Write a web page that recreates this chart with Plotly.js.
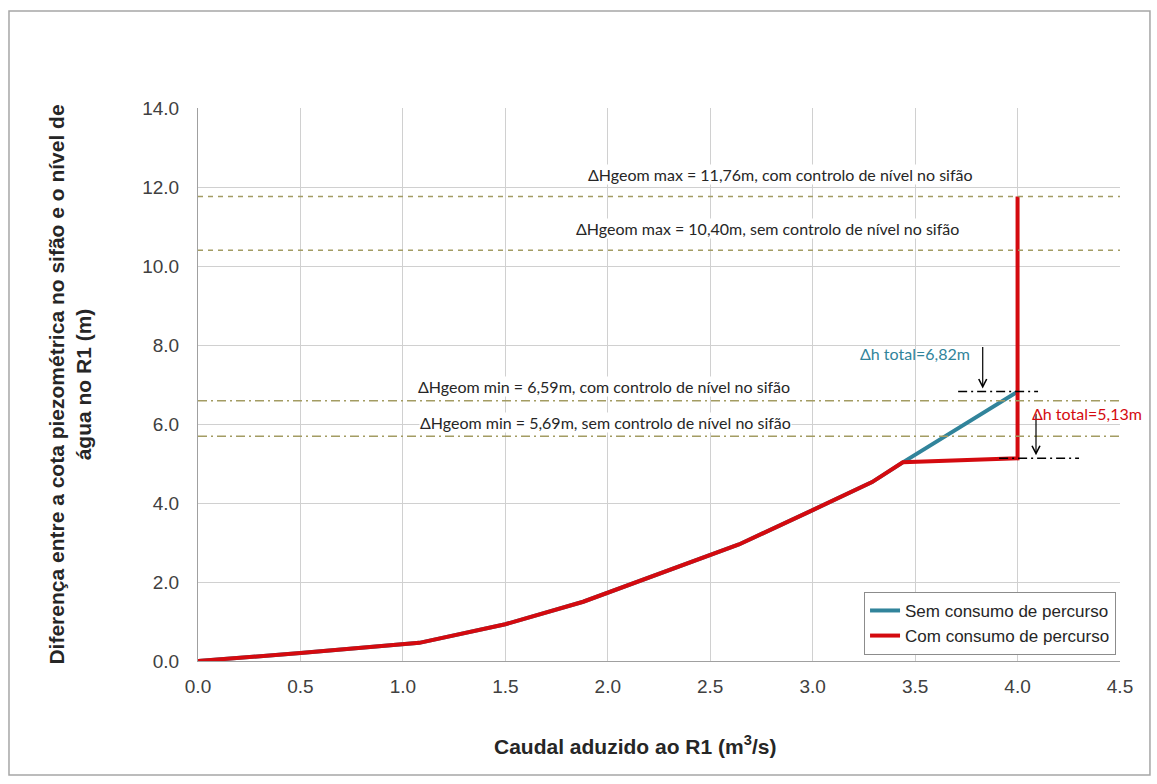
<!DOCTYPE html>
<html><head><meta charset="utf-8">
<script src="https://cdn.plot.ly/plotly-3.0.1.min.js"></script>
<style>body{margin:0;background:#fff}#c{width:1157px;height:784px}</style>
</head><body><div id="c"></div>
<script>
// ---- data ----
const flowCommon = [0, 0.5, 1.08, 1.5, 1.88, 2.25, 2.64, 3.0, 3.29, 3.44];
const headCommon = [0, 0.2, 0.46, 0.93, 1.5, 2.2, 2.95, 3.82, 4.53, 5.03];
const flowSemEnd = [4.0];
const headSemEnd = [6.82];
const flowComEnd = [4.0, 4.0];
const headComEnd = [5.13, 11.76];
const seriesNames = ["Sem consumo de percurso", "Com consumo de percurso"];
const refLevels = [11.76, 10.40, 6.59, 5.69];
const refLabels = [
  "ΔHgeom max = 11,76m, com controlo de nível no sifão",
  "ΔHgeom max = 10,40m, sem controlo de nível no sifão",
  "ΔHgeom min = 6,59m, com controlo de nível no sifão",
  "ΔHgeom min = 5,69m, sem controlo de nível no sifão"
];
const dhValues = [6.82, 5.13];
const dhLabels = ["Δh total=6,82m", "Δh total=5,13m"];
const xTicks = [0, 0.5, 1, 1.5, 2, 2.5, 3, 3.5, 4, 4.5];
const yTicks = [0, 2, 4, 6, 8, 10, 12, 14];
const xTitle = "Caudal aduzido ao R1 (m<sup>3</sup>/s)";
const yTitle = "Diferença entre a cota piezométrica no sifão e o nível de<br>água no R1 (m)";

// ---- styling / placement ----
const teal = "#31849b", red = "#d40a0f", olive = "#a39c63";
const refLabelX = [2.84, 2.78, 1.98, 1.99];
const refDash = ["5px,5px", "5px,5px", "9px,4px,2px,4px", "9px,4px,2px,4px"];
const dhSegX = [[3.71, 4.10], [3.91, 4.30]];
const dhArrowX = [3.83, 4.09];
const dhLabelX = [3.5, 4.34];
const dhLabelShift = [38, 45];
const dhColors = [teal, red];

const semX = flowCommon.concat(flowSemEnd), semY = headCommon.concat(headSemEnd);
const comX = flowCommon.concat(flowComEnd), comY = headCommon.concat(headComEnd);

const traces = [
  {x: semX, y: semY, mode: "lines", name: seriesNames[0], line: {color: teal, width: 4}},
  {x: comX, y: comY, mode: "lines", name: seriesNames[1], line: {color: red, width: 4}}
];

const annFont = "Lato, 'Open Sans', sans-serif";
const shapes = [];
const annotations = [];
refLevels.forEach((v, i) => {
  shapes.push({type: "line", xref: "x", yref: "y", x0: 0, x1: 4.5, y0: v, y1: v,
    line: {color: olive, width: 1.5, dash: refDash[i]}, layer: "above"});
  annotations.push({x: refLabelX[i], y: v, xref: "x", yref: "y", text: refLabels[i],
    showarrow: false, yshift: i < 2 ? 22 : 14, bgcolor: "#fff", borderpad: 0,
    font: {family: annFont, size: 16, color: "#262626"}});
});
dhValues.forEach((v, i) => {
  shapes.push({type: "line", xref: "x", yref: "y", x0: dhSegX[i][0], x1: dhSegX[i][1], y0: v, y1: v,
    line: {color: "#000", width: 1.5, dash: "9px,4px,2px,4px"}, layer: "above"});
  annotations.push({x: dhArrowX[i], y: v, xref: "x", yref: "y", ax: 0, ay: -46, axref: "pixel", ayref: "pixel",
    showarrow: true, arrowhead: 5, arrowsize: 1.3, arrowwidth: 1.2, arrowcolor: "#000", text: "", standoff: 3});
  annotations.push({x: dhLabelX[i], y: v, xref: "x", yref: "y", text: dhLabels[i], showarrow: false,
    yshift: dhLabelShift[i], font: {family: annFont, size: 16, color: dhColors[i]}});
});
// x-axis title (slightly left of centre, as in the reference)
annotations.push({x: 0.474, y: -0.152, xref: "paper", yref: "paper", text: xTitle, showarrow: false,
  xanchor: "center", yanchor: "middle",
  font: {family: "Arial, 'Liberation Sans', sans-serif", size: 21, color: "#262626", weight: "bold"}});
// outer chart border
shapes.push({type: "rect", xref: "paper", yref: "paper", x0: -0.205, x1: 1.0325, y0: -0.206, y1: 1.1754,
  line: {color: "#a6a6a6", width: 1.5}, fillcolor: "rgba(0,0,0,0)"});

const axFont = {family: "Arial, 'Liberation Sans', sans-serif", size: 19, color: "#404040"};
const layout = {
  width: 1157, height: 784,
  margin: {l: 198, r: 37, t: 108, b: 123},
  paper_bgcolor: "#fff", plot_bgcolor: "#fff",
  showlegend: true,
  legend: {x: 0.9957, xanchor: "right", y: 0.011, yanchor: "bottom", bgcolor: "#fff",
    bordercolor: "#8c8c8c", borderwidth: 1, tracegroupgap: 0,
    font: {family: "Arial, 'Liberation Sans', sans-serif", size: 17, color: "#262626"}},
  xaxis: {range: [0, 4.5], tickvals: xTicks, tickformat: ".1f", showgrid: true, gridcolor: "#d0d0d0",
    gridwidth: 1, zeroline: false, showline: true, linecolor: "#a0a0a0", mirror: false,
    tickfont: axFont, ticks: "", automargin: false, ticklabelstandoff: 8},
  yaxis: {range: [0, 14], tickvals: yTicks, tickformat: ".1f", showgrid: true, gridcolor: "#d0d0d0",
    gridwidth: 1, zeroline: false, showline: true, linecolor: "#a0a0a0",
    tickfont: axFont, ticks: "", automargin: false, ticklabelstandoff: 14,
    title: {text: yTitle, standoff: 44,
      font: {family: "Arial, 'Liberation Sans', sans-serif", size: 21, color: "#262626", weight: "bold"}}},
  shapes: shapes,
  annotations: annotations
};
Plotly.newPlot("c", traces, layout, {displayModeBar: false, staticPlot: true});
</script>
</body></html>
